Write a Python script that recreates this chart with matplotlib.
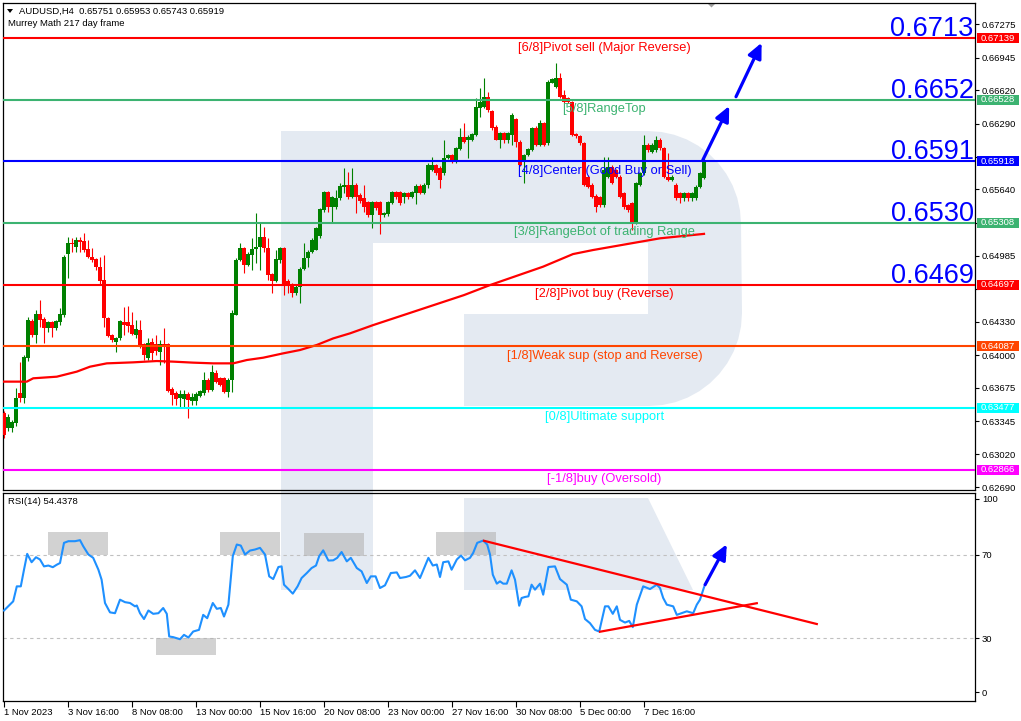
import matplotlib
matplotlib.use('Agg')
import matplotlib.pyplot as plt
from matplotlib.patches import Polygon, Rectangle
from matplotlib.transforms import blended_transform_factory
import numpy as np

plt.rcParams['font.family'] = ['Liberation Sans', 'DejaVu Sans']

# ---------------- data ----------------
opens = [0.63423, 0.63274, 0.63274, 0.63324, 0.63621, 0.63571, 0.63967, 0.64337, 0.64198, 0.64403,
         0.64357, 0.64265, 0.64324, 0.64271, 0.64324, 0.64397, 0.64997, 0.65113, 0.65073, 0.65139,
         0.65129, 0.65050, 0.64974, 0.64951, 0.64868, 0.64743, 0.64363, 0.64198, 0.64133, 0.64166,
         0.64324, 0.64324, 0.64297, 0.64198, 0.64248, 0.64106, 0.63967, 0.64126, 0.64106, 0.64034,
         0.64110, 0.64106, 0.63661, 0.63621, 0.63571, 0.63562, 0.63611, 0.63548, 0.63548, 0.63598,
         0.63621, 0.63753, 0.63654, 0.63819, 0.63769, 0.63769, 0.63637, 0.63753, 0.64397, 0.64941,
         0.65057, 0.64892, 0.64990, 0.65047, 0.65066, 0.65165, 0.65063, 0.64799, 0.64736, 0.64941,
         0.65057, 0.64736, 0.64694, 0.64611, 0.64670, 0.64848, 0.64964, 0.65023, 0.65040, 0.65179,
         0.65436, 0.65611, 0.65469, 0.65469, 0.65551, 0.65667, 0.65684, 0.65568, 0.65684, 0.65585,
         0.65551, 0.65518, 0.65386, 0.65518, 0.65518, 0.65386, 0.65396, 0.65508, 0.65611, 0.65611,
         0.65568, 0.65601, 0.65568, 0.65601, 0.65677, 0.65601, 0.65684, 0.65832, 0.65882, 0.65855,
         0.65799, 0.65948, 0.65981, 0.65915, 0.66040, 0.66162, 0.66129, 0.66129, 0.66179, 0.66449,
         0.66459, 0.66558, 0.66416, 0.66261, 0.66129, 0.66195, 0.66129, 0.66179, 0.66334, 0.66113,
         0.65915, 0.65981, 0.66030, 0.66251, 0.66080, 0.66294, 0.66096, 0.66697, 0.66657, 0.66740,
         0.66575, 0.66542, 0.66509, 0.66185, 0.66169, 0.66096, 0.65766, 0.65684, 0.65575, 0.65568,
         0.65485, 0.65766, 0.65865, 0.65832, 0.65766, 0.65601, 0.65485, 0.65502, 0.65320, 0.65684,
         0.65799, 0.66080, 0.66013, 0.66030, 0.66129, 0.66047, 0.65766, 0.65733, 0.65684, 0.65601,
         0.65551, 0.65601, 0.65551, 0.65551, 0.65667, 0.65751]
highs = [0.63450, 0.63420, 0.63360, 0.63670, 0.63935, 0.64000, 0.64380, 0.64360, 0.64446, 0.64545,
         0.64380, 0.64340, 0.64340, 0.64350, 0.64463, 0.64990, 0.65172, 0.65155, 0.65172, 0.65172,
         0.65205, 0.65139, 0.65057, 0.64960, 0.64974, 0.64990, 0.64380, 0.64210, 0.64180, 0.64347,
         0.64479, 0.64486, 0.64430, 0.64347, 0.64347, 0.64120, 0.64166, 0.64166, 0.64198, 0.64149,
         0.64265, 0.64120, 0.63680, 0.63640, 0.63654, 0.63654, 0.63630, 0.63621, 0.63630, 0.63654,
         0.63835, 0.63770, 0.63901, 0.63852, 0.63780, 0.63786, 0.63770, 0.64446, 0.64960, 0.65106,
         0.65070, 0.65020, 0.65155, 0.65403, 0.65304, 0.65271, 0.65155, 0.64810, 0.65040, 0.65073,
         0.65070, 0.64750, 0.64710, 0.64700, 0.64870, 0.65106, 0.65040, 0.65155, 0.65271, 0.65460,
         0.65620, 0.65620, 0.65580, 0.65634, 0.65700, 0.65848, 0.65815, 0.65848, 0.65700, 0.65600,
         0.65684, 0.65530, 0.65530, 0.65530, 0.65530, 0.65420, 0.65530, 0.65625, 0.65625, 0.65625,
         0.65615, 0.65615, 0.65625, 0.65690, 0.65690, 0.65700, 0.65900, 0.65964, 0.65895, 0.65870,
         0.66129, 0.65995, 0.65995, 0.66060, 0.66245, 0.66294, 0.66175, 0.66195, 0.66541, 0.66640,
         0.66740, 0.66608, 0.66430, 0.66275, 0.66210, 0.66210, 0.66210, 0.66393, 0.66350, 0.66125,
         0.65995, 0.66047, 0.66261, 0.66265, 0.66327, 0.66310, 0.66720, 0.66745, 0.66888, 0.66790,
         0.66624, 0.66555, 0.66520, 0.66200, 0.66180, 0.66110, 0.65780, 0.65700, 0.65590, 0.65580,
         0.65964, 0.65964, 0.65880, 0.65845, 0.65780, 0.65615, 0.65500, 0.65515, 0.65715, 0.65815,
         0.66179, 0.66095, 0.66095, 0.66169, 0.66146, 0.66060, 0.65997, 0.65780, 0.65700, 0.65615,
         0.65615, 0.65615, 0.65615, 0.65680, 0.65815, 0.65953]
lows = [0.63180, 0.63250, 0.63240, 0.63300, 0.63538, 0.63522, 0.63940, 0.64180, 0.64116, 0.64281,
        0.64116, 0.64232, 0.64182, 0.64250, 0.64300, 0.64380, 0.64760, 0.65023, 0.65023, 0.65023,
        0.65023, 0.64960, 0.64925, 0.64842, 0.64693, 0.64281, 0.64182, 0.64130, 0.64034, 0.64150,
        0.64198, 0.64232, 0.64198, 0.64166, 0.64067, 0.63951, 0.63950, 0.63951, 0.64001, 0.63901,
        0.63918, 0.63637, 0.63505, 0.63505, 0.63489, 0.63489, 0.63373, 0.63505, 0.63505, 0.63580,
        0.63600, 0.63637, 0.63640, 0.63720, 0.63694, 0.63620, 0.63588, 0.63637, 0.64397, 0.64930,
        0.64809, 0.64880, 0.64842, 0.64908, 0.64842, 0.65023, 0.64743, 0.64611, 0.64727, 0.64908,
        0.64595, 0.64611, 0.64578, 0.64595, 0.64512, 0.64840, 0.64875, 0.65010, 0.65040, 0.65155,
        0.65420, 0.65420, 0.65320, 0.65450, 0.65540, 0.65601, 0.65550, 0.65560, 0.65403, 0.65502,
        0.65420, 0.65370, 0.65254, 0.65440, 0.65198, 0.65370, 0.65380, 0.65500, 0.65550, 0.65490,
        0.65502, 0.65550, 0.65555, 0.65492, 0.65590, 0.65590, 0.65650, 0.65820, 0.65785, 0.65650,
        0.65785, 0.65940, 0.65900, 0.65898, 0.66030, 0.66100, 0.65948, 0.66115, 0.66165, 0.66360,
        0.66445, 0.66410, 0.66228, 0.66129, 0.66047, 0.66096, 0.66100, 0.66080, 0.66060, 0.65870,
        0.65700, 0.65970, 0.66020, 0.66070, 0.66070, 0.66070, 0.66080, 0.66690, 0.66645, 0.66545,
        0.66495, 0.66495, 0.66165, 0.66150, 0.66080, 0.65670, 0.65650, 0.65555, 0.65420, 0.65470,
        0.65470, 0.65750, 0.65690, 0.65750, 0.65555, 0.65450, 0.65420, 0.65238, 0.65300, 0.65670,
        0.65785, 0.66015, 0.66000, 0.66015, 0.66030, 0.65750, 0.65720, 0.65720, 0.65540, 0.65502,
        0.65530, 0.65530, 0.65530, 0.65540, 0.65650, 0.65743]
closes = [0.63208, 0.63390, 0.63340, 0.63571, 0.63571, 0.63984, 0.64347, 0.64198, 0.64403, 0.64347,
          0.64265, 0.64324, 0.64271, 0.64337, 0.64403, 0.64974, 0.65106, 0.65099, 0.65139, 0.65123,
          0.65040, 0.64974, 0.64941, 0.64868, 0.64733, 0.64363, 0.64189, 0.64149, 0.64166, 0.64337,
          0.64297, 0.64291, 0.64208, 0.64258, 0.64100, 0.64001, 0.64116, 0.64017, 0.64040, 0.64106,
          0.64100, 0.63647, 0.63604, 0.63562, 0.63611, 0.63611, 0.63555, 0.63588, 0.63611, 0.63644,
          0.63753, 0.63654, 0.63835, 0.63736, 0.63703, 0.63637, 0.63753, 0.64413, 0.64941, 0.65057,
          0.64892, 0.65000, 0.65050, 0.65070, 0.65165, 0.65063, 0.64793, 0.64736, 0.64948, 0.65057,
          0.64694, 0.64694, 0.64611, 0.64677, 0.64848, 0.64964, 0.65023, 0.65139, 0.65254, 0.65442,
          0.65611, 0.65469, 0.65568, 0.65551, 0.65674, 0.65684, 0.65561, 0.65684, 0.65568, 0.65528,
          0.65469, 0.65386, 0.65518, 0.65452, 0.65386, 0.65409, 0.65518, 0.65611, 0.65568, 0.65502,
          0.65601, 0.65568, 0.65611, 0.65677, 0.65601, 0.65684, 0.65882, 0.65882, 0.65799, 0.65733,
          0.65948, 0.65981, 0.65915, 0.66047, 0.66162, 0.66113, 0.66162, 0.66188, 0.66459, 0.66508,
          0.66558, 0.66426, 0.66245, 0.66129, 0.66195, 0.66129, 0.66195, 0.66377, 0.66113, 0.65882,
          0.65981, 0.66040, 0.66251, 0.66080, 0.66294, 0.66080, 0.66707, 0.66730, 0.66740, 0.66558,
          0.66509, 0.66509, 0.66179, 0.66169, 0.66096, 0.65684, 0.65667, 0.65568, 0.65469, 0.65485,
          0.65832, 0.65865, 0.65700, 0.65766, 0.65568, 0.65469, 0.65436, 0.65320, 0.65700, 0.65799,
          0.66080, 0.66030, 0.66080, 0.66129, 0.66047, 0.65766, 0.65733, 0.65766, 0.65551, 0.65551,
          0.65601, 0.65551, 0.65601, 0.65667, 0.65799, 0.65919]

# 200-period moving average (bar index, price)
ma_idx = [0, 5.7, 7.3, 13.2, 18.2, 21.5, 25.7, 32.3, 38.2, 42.3, 47.3, 52.3, 57.3, 60.7, 64.8,
          69.8, 74, 78.2, 82.3, 86.5, 92.3, 115, 121.5, 134.75, 142.25, 147.25, 155.75, 164, 175]
ma_val = [0.63737, 0.63737, 0.63770, 0.63786, 0.63836, 0.63885, 0.63918, 0.63928, 0.63941, 0.63935,
          0.63925, 0.63918, 0.63918, 0.63951, 0.63974, 0.64017, 0.64050, 0.64100, 0.64165, 0.64215,
          0.64297, 0.64594, 0.64693, 0.64875, 0.65000, 0.65040, 0.65099, 0.65156, 0.65200]

# RSI(14) (bar index, value)
rsi_idx = [0.0, 2.3, 3.2, 4.2, 5.0, 5.8, 6.9, 8.0, 9.0, 10.0, 11.1, 12.2, 13.2, 14.0, 15.0, 16.1,
           17.75, 19.0, 19.8, 21.1, 22.3, 23.6, 24.4, 25.25, 26.5, 27.75, 29.0, 30.25, 31.5, 32.75,
           33.2, 34.0, 35.0, 36.1, 37.3, 38.6, 39.8, 40.7, 41.3, 42.3, 44.0, 45.0, 46.1, 47.3, 48.75,
           49.8, 50.8, 52.2, 53.2, 54.2, 55.0, 56.1, 57.2, 58.2, 59.2, 60.25, 61.5, 62.75, 64.0,
           65.25, 66.3, 67.3, 68.6, 69.4, 70.0, 71.1, 72.2, 73.4, 74.4, 75.7, 76.9, 78.0, 78.8, 79.8,
           81.1, 82.3, 83.3, 84.4, 85.7, 86.7, 88.2, 89.4, 90.7, 91.7, 92.9, 94.0, 95.25, 96.7, 98.2,
           99.0, 100.5, 101.5, 102.75, 104.0, 106.1, 107.2, 108.2, 109.0, 109.8, 111.1, 111.9, 113.2,
           114.25, 115.25, 116.5, 117.3, 118.3, 119.8, 120.8, 121.5, 122.2, 123.2, 124.0, 124.8,
           125.7, 126.9, 127.75, 128.8, 129.4, 130.25, 131.1, 131.9, 132.75, 134.0, 134.8, 136.1,
           137.75, 139.0, 140.7, 141.7, 143.2, 144.4, 145.25, 146.5, 147.75, 148.8, 150.25, 151.1,
           152.2, 153.2, 154.0, 155.25, 156.3, 157.2, 158.2, 159.8, 161.5, 163.2, 164.0, 164.8,
           165.7, 167.3, 168.2, 169.4, 170.7, 172.3, 173.2, 174.0, 175.0]
rsi_val = [43.3, 47.7, 54.9, 54.9, 62.9, 70.5, 66.5, 68.9, 67.8, 64.5, 64.9, 64.1, 65.3, 66.1, 75.8,
           76.6, 76.6, 77.1, 74.2, 70.2, 68.6, 62.9, 58.1, 46.9, 42.4, 42.0, 48.5, 47.3, 46.9, 45.3,
           45.7, 42.0, 39.2, 43.3, 41.7, 42.0, 44.5, 41.7, 30.8, 30.5, 29.5, 31.6, 30.3, 33.2, 34.0,
           41.2, 39.6, 46.9, 44.1, 44.5, 40.4, 46.1, 69.4, 75.0, 74.5, 70.2, 72.1, 72.6, 73.4, 70.2,
           59.7, 58.4, 64.2, 64.5, 55.7, 53.6, 51.4, 54.9, 58.9, 61.3, 63.7, 64.9, 69.4, 72.2, 67.3,
           67.4, 68.6, 71.4, 66.9, 68.6, 63.7, 62.1, 56.5, 59.7, 59.7, 54.1, 55.4, 61.3, 61.6, 58.9,
           59.4, 60.0, 62.6, 58.9, 68.6, 64.9, 65.4, 59.4, 66.5, 66.9, 62.9, 67.8, 69.7, 67.4, 68.6,
           71.0, 75.8, 76.9, 75.0, 70.2, 60.5, 56.2, 57.3, 56.2, 56.2, 62.6, 58.1, 45.6, 49.3, 49.8,
           50.1, 55.7, 53.3, 56.2, 50.9, 64.2, 64.5, 58.4, 55.7, 48.5, 47.7, 45.3, 39.2, 37.2, 34.0,
           33.2, 45.3, 45.3, 41.7, 45.3, 38.8, 37.5, 38.3, 35.3, 46.1, 54.9, 53.6, 55.7, 54.1, 49.3,
           46.1, 45.3, 41.2, 42.0, 42.9, 42.0, 46.1, 48.5, 54.44]

# Murrey Math levels
mm_levels = [0.67139, 0.66528, 0.65918, 0.65308, 0.64697, 0.64087, 0.63477, 0.62866]
mm_names = ['[6/8]Pivot sell (Major Reverse)', '[5/8]RangeTop', '[4/8]Center (Good Buy or Sell)',
            '[3/8]RangeBot of trading Range', '[2/8]Pivot buy (Reverse)',
            '[1/8]Weak sup (stop and Reverse)', '[0/8]Ultimate support', '[-1/8]buy (Oversold)']
mm_colors = ['#FF0000', '#3CB371', '#0000FF', '#3CB371', '#FF0000', '#FF4500', '#00FFFF', '#FF00FF']
big_labels = ['0.6713', '0.6652', '0.6591', '0.6530', '0.6469']

price_ticks = [0.67275, 0.66945, 0.66620, 0.66290, 0.65965, 0.65640, 0.65310, 0.64985, 0.64655,
               0.64330, 0.64000, 0.63675, 0.63345, 0.63020, 0.62690]
# tick labels hidden behind the coloured level boxes are left blank
price_tick_labels = ['0.67275', '0.66945', '0.66620', '0.66290', '', '0.65640', '', '0.64985', '',
                     '0.64330', '0.64000', '0.63675', '0.63345', '0.63020', '0.62690']

x_tick_idx = [0, 16, 32, 48, 64, 80, 96, 112, 128, 144, 160]
x_tick_labels = ['1 Nov 2023', '3 Nov 16:00', '8 Nov 08:00', '13 Nov 00:00', '15 Nov 16:00',
                 '20 Nov 08:00', '23 Nov 00:00', '27 Nov 16:00', '30 Nov 08:00', '5 Dec 00:00',
                 '7 Dec 16:00']

# annotations (bar index / price or RSI value)
main_arrows = [((174.7, 0.65931), (181.3, 0.66466)), ((183.0, 0.66558), (189.4, 0.67092))]
rsi_arrow = ((175.25, 55.6), (180.7, 75.1))
rsi_trend_upper = ([120, 203.2], [76.8, 36.8])
rsi_trend_lower = ([149, 188.2], [33.1, 46.8])
rsi_boxes = [(11, 70, 15, 11), (54, 70, 15, 11), (75, 69.5, 15, 11.2), (108, 70, 15, 11), (38, 22, 15, 8)]

# ---------------- figure ----------------
W, H = 1021, 721
fig = plt.figure(figsize=(W / 100, H / 100), dpi=100, facecolor='white')

# background (pixel coordinates) for watermark and header
ax_bg = fig.add_axes([0, 0, 1, 1], zorder=0)
ax_bg.set_xlim(0, W)
ax_bg.set_ylim(H, 0)
ax_bg.axis('off')

wm = '#E4EAF2'
r = 93
pts = [(281, 131), (648, 131)]
for a in np.linspace(90, 0, 12):
    pts.append((648 + r * np.cos(np.radians(a)), 224 - r * np.sin(np.radians(a))))
for a in np.linspace(0, -90, 12):
    pts.append((649 + r * np.cos(np.radians(a)), 313 - r * np.sin(np.radians(a))))
pts += [(464, 406), (464, 314), (648, 314), (648, 243), (373, 243), (373, 590), (281, 590)]
ax_bg.add_patch(Polygon(pts, closed=True, fc=wm, ec='none'))
ax_bg.add_patch(Polygon([(464, 498), (648, 498), (693, 590), (464, 590)], closed=True, fc=wm, ec='none'))

# header
ax_bg.add_patch(Polygon([(7, 9), (13, 9), (10, 13)], closed=True, fc='black', ec='none'))
ax_bg.text(19, 11, 'AUDUSD,H4  0.65751 0.65953 0.65743 0.65919', fontsize=6.8, va='center', ha='left')
ax_bg.text(8, 24, 'Murrey Math 217 day frame', fontsize=6.8, va='center', ha='left')
ax_bg.text(8, 502, 'RSI(14) 54.4378', fontsize=6.8, va='center', ha='left', zorder=5)
ax_bg.add_patch(Polygon([(707, 3), (716, 3), (711.5, 7.5)], closed=True, fc='#A0A0A0', ec='none'))

# ---------------- main panel ----------------
ax = fig.add_axes([3 / W, 1 - 490 / H, 972 / W, 487.5 / H], zorder=1)
ax.patch.set_alpha(0)
ax.set_xlim(-0.25, 242.75)
ax.set_ylim(0.62664, 0.67491)
for s in ax.spines.values():
    s.set_linewidth(0.9)
    s.set_color('black')
ax.set_xticks([])
ax.yaxis.tick_right()
ax.set_yticks(price_ticks)
ax.set_yticklabels(price_tick_labels)
ax.tick_params(axis='y', length=3, width=0.8, pad=2, labelsize=6.8, direction='out')

o = np.array(opens); h = np.array(highs); l = np.array(lows); c = np.array(closes)
idx = np.arange(len(o))
cols = np.where(c >= o, '#008000', '#FF0000')
ax.vlines(idx, l, h, colors=cols, lw=0.8, zorder=3)
ax.bar(idx, np.maximum(np.abs(c - o), 0.00007), bottom=np.minimum(o, c), width=0.78,
       color=cols, linewidth=0, zorder=3)

ax.plot(ma_idx, ma_val, color='#FF0000', lw=1.6, zorder=3.5)

ylim = ax.get_ylim()
px = (ylim[1] - ylim[0]) / 487.5
trans_r = blended_transform_factory(ax_bg.transData, ax.transData)
for lv, name, col in zip(mm_levels, mm_names, mm_colors):
    ax.axhline(lv, color=col, lw=1.5, zorder=4)
    ax.text(150.1, lv - 9.5 * px, name, ha='center', va='center', fontsize=9.3, color=col, zorder=6)
    ax.add_patch(Rectangle((977, lv - 5 * px), 42, 10 * px, transform=trans_r, fc=col, ec='none',
                           clip_on=False, zorder=7))
    ax.text(998, lv, '%.5f' % lv, transform=trans_r, ha='center', va='center', fontsize=6.8,
            color='white', clip_on=False, zorder=8)
for lv, lab in zip(mm_levels, big_labels):
    ax.text(242.4, lv + 2 * px, lab, ha='right', va='baseline', fontsize=19.5, color='#0000FF', zorder=6)

for (x0, y0), (x1, y1) in main_arrows:
    ax.annotate('', xy=(x1, y1), xytext=(x0, y0),
                arrowprops=dict(arrowstyle='-|>,head_length=0.75,head_width=0.35', color='#0000FF',
                                lw=2.3, mutation_scale=12, shrinkA=0, shrinkB=0), zorder=9)

# ---------------- RSI panel ----------------
ar = fig.add_axes([3 / W, 1 - 700.6 / H, 972 / W, 208.1 / H], zorder=1)
ar.patch.set_alpha(0)
ar.set_xlim(-0.25, 242.75)
ar.set_ylim(0, 100)
for s in ar.spines.values():
    s.set_linewidth(0.9)
    s.set_color('black')
ar.yaxis.tick_right()
ar.set_yticks([96.9, 70, 30, 4.1])
ar.set_yticklabels(['100', '70', '30', '0'])
ar.tick_params(axis='y', length=3, width=0.8, pad=2, labelsize=6.8)
ar.set_xticks(x_tick_idx)
ar.set_xticklabels(x_tick_labels, ha='left')
ar.tick_params(axis='x', length=4, width=0.8, pad=1.5, labelsize=6.8)

for v in (70, 30):
    ar.axhline(v, color='#C0C0C0', lw=0.8, ls=(0, (3, 3)), zorder=1)
for (bx, by, bw, bh) in rsi_boxes:
    ar.add_patch(Rectangle((bx, by), bw, bh, fc='#B4B4B4', ec='none', alpha=0.6, zorder=2))
ar.plot(rsi_idx, rsi_val, color='#1E90FF', lw=1.5, zorder=3)
ar.plot(*rsi_trend_upper, color='#FF0000', lw=1.6, zorder=4)
ar.plot(*rsi_trend_lower, color='#FF0000', lw=1.6, zorder=4)
ar.annotate('', xy=rsi_arrow[1], xytext=rsi_arrow[0],
            arrowprops=dict(arrowstyle='-|>,head_length=0.75,head_width=0.35', color='#0000FF',
                            lw=2.3, mutation_scale=12, shrinkA=0, shrinkB=0), zorder=5)

fig.savefig('out.png', dpi=100)
